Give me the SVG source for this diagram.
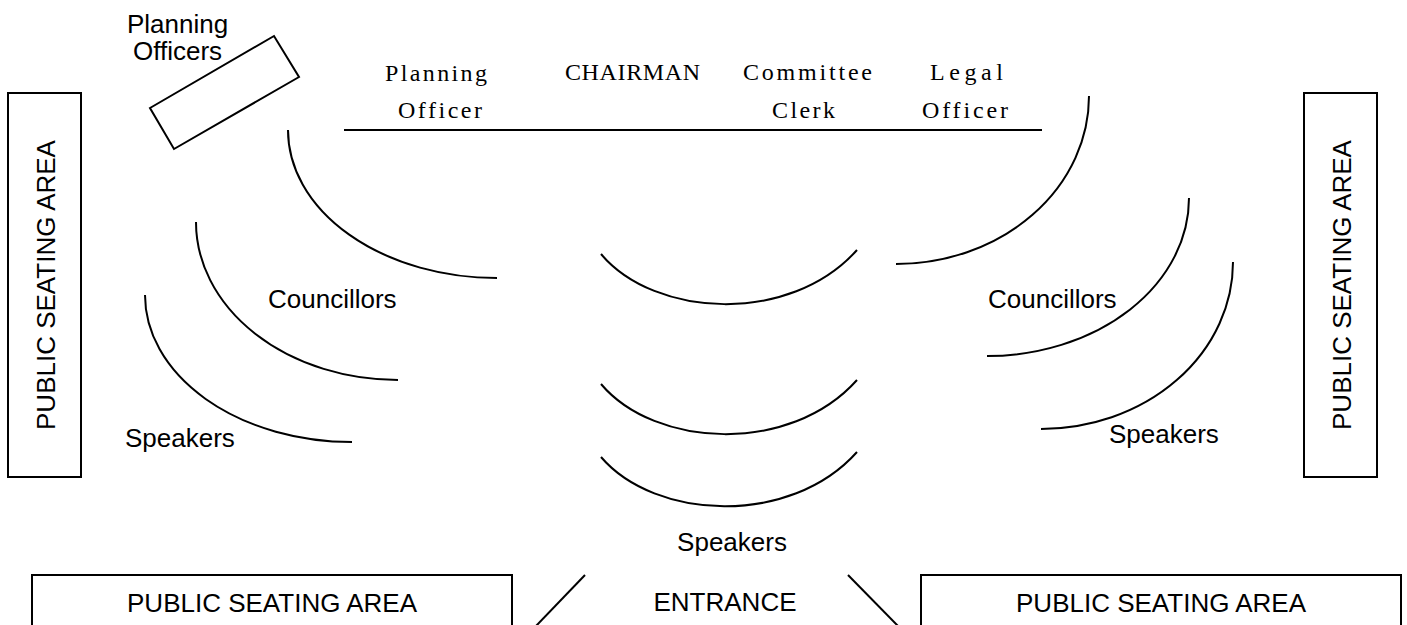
<svg xmlns="http://www.w3.org/2000/svg" width="1407" height="625" viewBox="0 0 1407 625">
<style>
.ln{fill:none;stroke:#000;stroke-width:2}
.bx{fill:#fff;stroke:#000;stroke-width:2}
.t{font-family:"Liberation Sans",Arial,sans-serif;font-size:26px;fill:#000}
.s{font-family:"Liberation Serif","Times New Roman",serif;font-size:24px;fill:#000}
</style>
<rect width="1407" height="625" fill="#fff"/>
<g id="planning-officers">
<polygon class="bx" points="150,108 274,36 299,77 174,149"/>
<text class="t" x="127" y="33">Planning</text>
<text class="t" x="133" y="60">Officers</text>
</g>
<g id="top-table">
<line class="ln" x1="344" y1="130" x2="1042" y2="130"/>
<text class="s" x="385" y="81" textLength="102" lengthAdjust="spacing">Planning</text>
<text class="s" x="398" y="118" textLength="84" lengthAdjust="spacing">Officer</text>
<text class="s" x="565" y="80" textLength="135" lengthAdjust="spacing">CHAIRMAN</text>
<text class="s" x="743" y="80" textLength="129" lengthAdjust="spacing">Committee</text>
<text class="s" x="772" y="118" textLength="63" lengthAdjust="spacing">Clerk</text>
<text class="s" x="930" y="80" textLength="73" lengthAdjust="spacing">Legal</text>
<text class="s" x="922" y="118" textLength="86" lengthAdjust="spacing">Officer</text>
</g>
<g id="public-left">
<rect class="bx" x="8" y="93" width="73" height="384"/>
<text class="t" transform="translate(55,285) rotate(-90)" text-anchor="middle">PUBLIC SEATING AREA</text>
</g>
<g id="public-right">
<rect class="bx" x="1304" y="93" width="73" height="384"/>
<text class="t" transform="translate(1351,285) rotate(-90)" text-anchor="middle">PUBLIC SEATING AREA</text>
</g>
<g id="public-bottom-left">
<rect class="bx" x="32" y="575" width="480" height="60"/>
<text class="t" x="272" y="612" text-anchor="middle">PUBLIC SEATING AREA</text>
</g>
<g id="public-bottom-right">
<rect class="bx" x="921" y="575" width="480" height="60"/>
<text class="t" x="1161" y="612" text-anchor="middle">PUBLIC SEATING AREA</text>
</g>
<g id="entrance">
<line class="ln" x1="585" y1="575" x2="536" y2="626"/>
<line class="ln" x1="848" y1="575" x2="898" y2="626"/>
<text class="t" x="725" y="611" text-anchor="middle">ENTRANCE</text>
</g>
<g id="seating-arcs">
<path class="ln" d="M288,130 A209,148 0 0 0 497,278"/>
<path class="ln" d="M196,222 A202,158 0 0 0 398,380"/>
<path class="ln" d="M145,295 A207,147 0 0 0 352,442"/>
<path class="ln" d="M1089,96 A193,168 0 0 1 896,264"/>
<path class="ln" d="M1189,198 A202,158 0 0 1 987,356"/>
<path class="ln" d="M1233,262 A192,167 0 0 1 1041,429"/>
<path class="ln" d="M601,254 C655,318 790,325 857,250"/>
<path class="ln" d="M601,384 C655,448 790,455 857,380"/>
<path class="ln" d="M601,457 C655,520 790,527 857,452"/>
</g>
<g id="labels">
<text class="t" x="268" y="308">Councillors</text>
<text class="t" x="988" y="308">Councillors</text>
<text class="t" x="125" y="447">Speakers</text>
<text class="t" x="1109" y="443">Speakers</text>
<text class="t" x="732" y="551" text-anchor="middle">Speakers</text>
</g>
</svg>
